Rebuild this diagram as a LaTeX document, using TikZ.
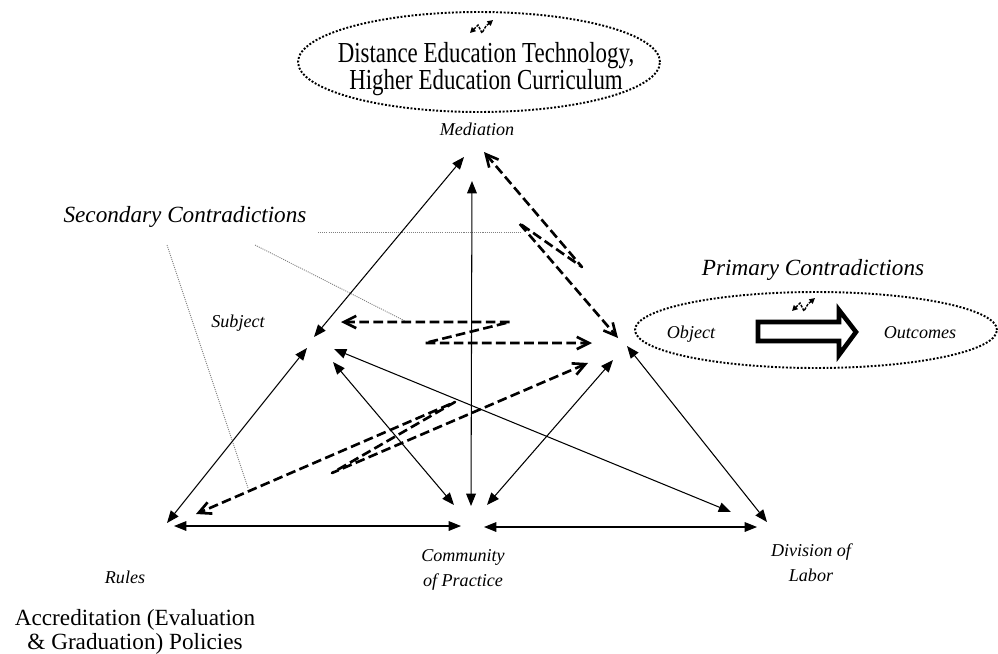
\documentclass[tikz,border=0pt]{standalone}
\usepackage{fontspec}
\setmainfont{Liberation Serif}
\newfontfamily\condserif{Liberation Serif}[FakeStretch=0.79]
\newcommand\condsetup{\condserif\fontsize{16.5}{15.6}\selectfont\setlength{\lineskiplimit}{-20pt}\setlength{\lineskip}{0pt}}
\usetikzlibrary{arrows.meta,shapes.geometric}
\tikzset{
  solidarr/.style={{Triangle[length=7pt,width=5.5pt]}-{Triangle[length=7pt,width=5.5pt]}, line width=0.6pt},
  contra/.style={{Straight Barb[length=7pt,width=7pt]}-{Straight Barb[length=7pt,width=7pt]}, line width=1.5pt, dash pattern=on 5.5pt off 2.5pt, line join=round},
  guide/.style={gray, line width=0.5pt, dash pattern=on 0.6pt off 0.6pt},
  dotell/.style={ellipse, draw, line width=1.1pt, dash pattern=on 1.1pt off 1pt, inner sep=0pt},
  lbl/.style={font=\fontsize{10.3}{14.2}\selectfont\itshape, inner sep=0pt, align=center},
  bigit/.style={font=\fontsize{13.2}{15}\selectfont\itshape, inner sep=0pt},
  bigrm/.style={font=\fontsize{13.2}{13.6}\selectfont, inner sep=0pt, align=center},
  cond/.style={font=\condsetup, inner sep=0pt, align=center},
  blockarrow/.style={line width=2.6pt, miter limit=4, fill=white},
  zap/.pic={\draw[line width=0.8pt, dash pattern=on 1.6pt off 0.7pt, {Triangle[length=3.2pt,width=3.2pt]}-{Triangle[length=3.2pt,width=3.2pt]}] (-12,6) -- (-4,-2) -- (0,6) -- (4,-1) -- (11,-7);}
}
\begin{document}
\begin{tikzpicture}[x=0.02cm,y=-0.02cm]
\useasboundingbox (0,0) rectangle (998,653);

% ellipses
\node[dotell, minimum width=7.24cm, minimum height=2cm] (medell) at (479,62) {};
\node[dotell, minimum width=7.24cm, minimum height=1.52cm] (outell) at (816,330) {};

% texts
\node[cond] (medtext) at (486,69) {Distance Education Technology,\\Higher Education Curriculum};
\pic at (482,27) {zap};
\node[lbl, anchor=base] (medlbl) at (477,135) {Mediation};
\node[bigit, anchor=base] (sec) at (185,222) {Secondary Contradictions};
\node[bigit, anchor=base] (prim) at (813,275) {Primary Contradictions};
\pic at (804,305) {zap};
\node[lbl, anchor=base] (subj) at (238,327) {Subject};
\node[lbl, anchor=base] (obj) at (691,338) {Object};
\node[lbl, anchor=base] (outc) at (920,338) {Outcomes};
\node[lbl, anchor=base] (rules) at (125,583) {Rules};
\node[lbl] (comm) at (463,570) {Community\\of Practice};
\node[lbl] (div) at (811,563) {Division of\\Labor};
\node[bigrm] (accr) at (135,632) {Accreditation (Evaluation\\\& Graduation) Policies};

% block arrow object -> outcomes
\draw[blockarrow] (758,322) -- (839,322) -- (839,310) -- (856,332) -- (839,355) -- (839,341) -- (758,341) -- cycle;

% end points
\coordinate (m1) at (464,157);
\coordinate (m2) at (472,181);
\coordinate (m3) at (484,152);
\coordinate (s1) at (314,337);
\coordinate (s2) at (307,348);
\coordinate (s3) at (334,349);
\coordinate (s4) at (333,362);
\coordinate (s5) at (341,322);
\coordinate (o1) at (618,338);
\coordinate (o2) at (592,343);
\coordinate (o3) at (588,363);
\coordinate (o4) at (613,360);
\coordinate (o5) at (627,346);
\coordinate (r1) at (167,523);
\coordinate (r2) at (174,526);
\coordinate (r3) at (196,514);
\coordinate (c1) at (471,506);
\coordinate (c2) at (454,505);
\coordinate (c3) at (487,505);
\coordinate (c4) at (461,526);
\coordinate (c5) at (484,527);
\coordinate (d1) at (731,512);
\coordinate (d2) at (767,522);
\coordinate (d3) at (757,527);
\coordinate (k1) at (582,267);
\coordinate (k2) at (519,223);
\coordinate (k3) at (510,322);
\coordinate (k4) at (425,343);
\coordinate (k5) at (332,473);
\coordinate (k6) at (455,402);
\coordinate (g1a) at (318,232);
\coordinate (g1b) at (521,232);
\coordinate (g2a) at (255,245);
\coordinate (g2b) at (405,321);
\coordinate (g3a) at (167,245);
\coordinate (g3b) at (248,488);

% guide lines
\draw[guide] (g1a) -- (g1b);
\draw[guide] (g2a) -- (g2b);
\draw[guide] (g3a) -- (g3b);

% solid relations
\draw[solidarr] (s1) -- (m1);
\draw[solidarr] (m2) -- (c1);
\draw[solidarr] (s2) -- (r1);
\draw[solidarr] (s4) -- (c2);
\draw[solidarr] (s3) -- (d1);
\draw[solidarr] (o4) -- (c3);
\draw[solidarr] (o5) -- (d2);
\draw[solidarr] (r2) -- (c4);
\draw[solidarr] (c5) -- (d3);

% secondary contradictions (lightning arrows)
\draw[contra] (m3) -- (k1) -- (k2) -- (o1);
\draw[contra] (s5) -- (k3) -- (k4) -- (o2);
\draw[contra] (o3) -- (k5) -- (k6) -- (r3);
\end{tikzpicture}
\end{document}
